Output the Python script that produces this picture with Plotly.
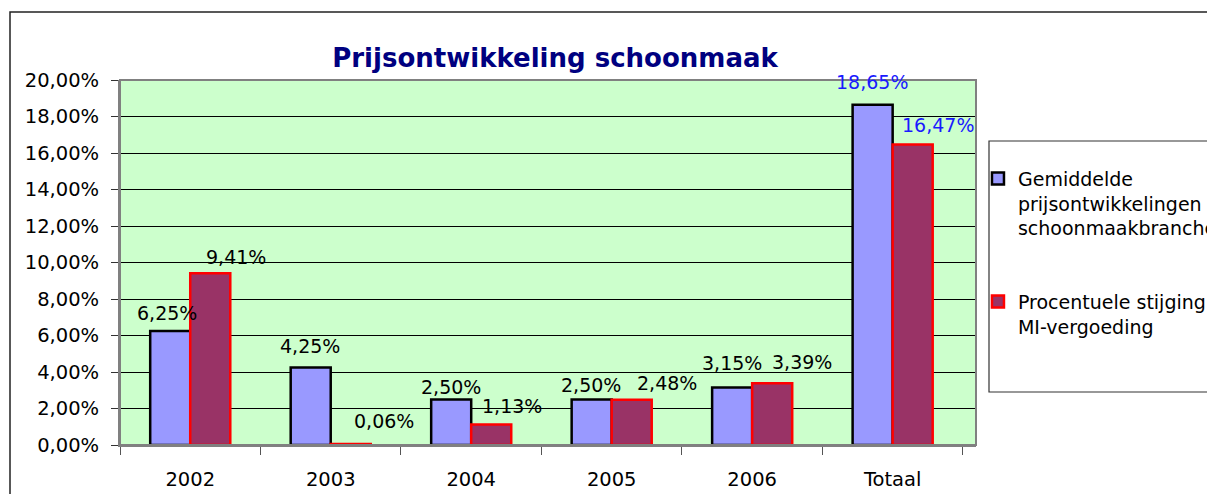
import plotly.graph_objects as go

categories = ["2002", "2003", "2004", "2005", "2006", "Totaal"]
gemiddelde = [6.25, 4.25, 2.50, 2.50, 3.15, 18.65]
mi_vergoeding = [9.41, 0.06, 1.13, 2.48, 3.39, 16.47]
series_names = [
    "Gemiddelde<br>prijsontwikkelingen<br>schoonmaakbranche",
    "Procentuele stijging<br>MI-vergoeding",
]
title_text = "Prijsontwikkeling schoonmaak"

# label placement offsets relative to bar centre / top (pixels), style only
blue_xshift = [-2.5, 0, 0, 0, 0, 0]
blue_yshift = [18, 21, 12.5, 14, 24.5, 23]
red_xshift = [25, 33, 20, 34.5, 29, 25]
red_yshift = [16.6, 23, 18, 16.7, 21.5, 19]
label_colors = ["black"] * 5 + ["#1a1aff"]

FONT = "DejaVu Sans"
HALF_BAR = 20.35
PAGE_OFFSET = 8  # default body margin of the html page


def fmt(v):
    return f"{v:.2f}".replace(".", ",") + "%"


fig = go.Figure()
fig.add_trace(go.Bar(
    x=categories, y=gemiddelde, name=series_names[0], legendgroup="a",
    marker=dict(color="#9999FF", line=dict(color="black", width=2.5)),
))
fig.add_trace(go.Bar(
    x=categories, y=mi_vergoeding, name=series_names[1], legendgroup="b",
    marker=dict(color="#993366", line=dict(color="#FF0000", width=2.5)),
))

for i, c in enumerate(categories):
    fig.add_annotation(x=i, y=gemiddelde[i], text=fmt(gemiddelde[i]), showarrow=False,
                       xshift=-HALF_BAR + blue_xshift[i], yshift=blue_yshift[i],
                       font=dict(family=FONT, size=19, color=label_colors[i]))
    fig.add_annotation(x=i, y=mi_vergoeding[i], text=fmt(mi_vergoeding[i]), showarrow=False,
                       xshift=HALF_BAR + red_xshift[i], yshift=red_yshift[i],
                       font=dict(family=FONT, size=19, color=label_colors[i]))

# outer chart border
fig.add_shape(type="rect", xref="paper", yref="paper",
              xsizemode="pixel", ysizemode="pixel", xanchor=0, yanchor=1,
              x0=-110, x1=2000, y0=68, y1=-1000,
              line=dict(color="#222222", width=1.5), fillcolor="rgba(0,0,0,0)", layer="below")
# legend box
fig.add_shape(type="rect", xref="paper", yref="paper",
              xsizemode="pixel", ysizemode="pixel", xanchor=1, yanchor=1,
              x0=13, x1=600, y0=-61, y1=-312,
              line=dict(color="#333333", width=1.2), fillcolor="white", layer="below")

ml, mt = 120 - PAGE_OFFSET, 80 - PAGE_OFFSET
fig.update_layout(
    width=1215, height=494,
    margin=dict(l=ml, r=1215 - ml - 856, t=mt, b=494 - mt - 365, autoexpand=False),
    paper_bgcolor="white",
    plot_bgcolor="#CCFFCC",
    barmode="group", bargap=0.43, bargroupgap=0,
    separators=",.",
    font=dict(family=FONT, size=19, color="black"),
    title=dict(text="<b>" + title_text + "</b>", x=(555 - 120) / 856, xref="paper",
               xanchor="center", y=1 - (58 - PAGE_OFFSET) / 494, yanchor="middle",
               font=dict(family=FONT, size=26, color="#000080")),
    legend=dict(x=1.0023, xanchor="left", y=0.782, yanchor="top",
                bgcolor="rgba(0,0,0,0)", borderwidth=0,
                font=dict(family=FONT, size=19, color="black"),
                tracegroupgap=46, valign="top", traceorder="grouped",
                itemwidth=30),
    showlegend=True,
)
fig.update_yaxes(range=[0, 20], dtick=2, tickformat=".2f", ticksuffix="%",
                 showgrid=True, gridcolor="black", gridwidth=1,
                 ticks="outside", ticklen=7, tickcolor="#333333",
                 showline=True, linecolor="#808080", linewidth=2, mirror=False,
                 zeroline=False, tickfont=dict(size=19.5), ticklabelstandoff=8,
                 automargin=False)
fig.update_xaxes(type="category", ticks="outside", tickson="boundaries", ticklen=8,
                 tickcolor="#555555", showline=True, linecolor="#808080", linewidth=2,
                 showgrid=False, ticklabelstandoff=16, tickfont=dict(size=19.5),
                 automargin=False)
# plot area top/right border
fig.add_shape(type="rect", xref="paper", yref="paper", x0=0, x1=1, y0=0, y1=1,
              line=dict(color="#808080", width=2), fillcolor="rgba(0,0,0,0)", layer="above")

fig.write_html("out.html")
